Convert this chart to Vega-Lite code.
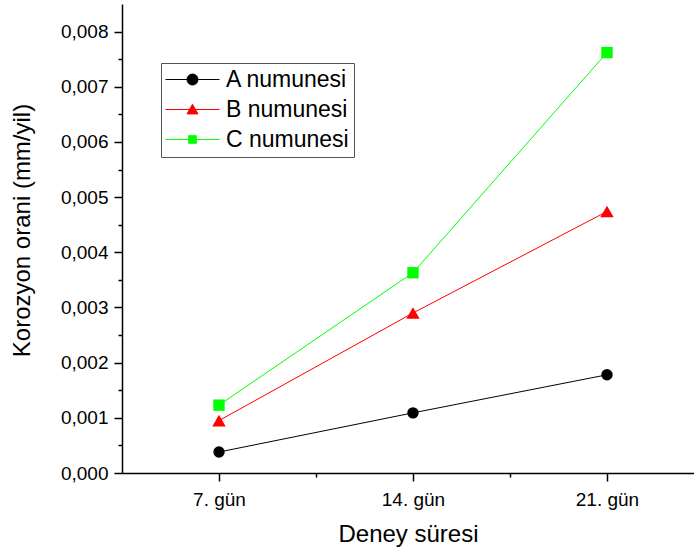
{
  "$schema": "https://vega.github.io/schema/vega-lite/v6.json",
  "width": 572,
  "height": 469,
  "autosize": {"type": "none"},
  "padding": {"left": 122, "top": 4, "right": 0, "bottom": 77},
  "background": "white",
  "config": {
    "view": {"stroke": null},
    "font": "Liberation Sans",
    "axis": {
      "grid": false,
      "domainColor": "#000000",
      "domainWidth": 1.5,
      "tickColor": "#000000",
      "tickWidth": 1.5,
      "labelColor": "#000000",
      "labelFont": "Liberation Sans",
      "labelFontSize": 19,
      "titleColor": "#000000",
      "titleFont": "Liberation Sans",
      "titleFontSize": 24,
      "titleFontWeight": "normal"
    },
    "legend": {"title": null, "orient": "none", "legendX": 39, "legendY": 59, "padding": 5, "symbolOffset": 15, "labelOffset": 22, "rowPadding": 6, "labelFontSize": 23, "labelFont": "Liberation Sans", "labelColor": "#000000", "strokeColor": "#555555", "fillColor": "#ffffff", "symbolStrokeWidth": 1, "symbolSize": 400, "symbolOpacity": 1, "labelLimit": 300}
  },
  "data": {
    "values": [
      {"day": 7, "series": "A numunesi", "rate": 0.00038},
      {"day": 14, "series": "A numunesi", "rate": 0.00109},
      {"day": 21, "series": "A numunesi", "rate": 0.00178},
      {"day": 7, "series": "B numunesi", "rate": 0.00095},
      {"day": 14, "series": "B numunesi", "rate": 0.0029},
      {"day": 21, "series": "B numunesi", "rate": 0.00474},
      {"day": 7, "series": "C numunesi", "rate": 0.00123},
      {"day": 14, "series": "C numunesi", "rate": 0.00363},
      {"day": 21, "series": "C numunesi", "rate": 0.00762}
    ]
  },
  "encoding": {
    "x": {
      "field": "day",
      "type": "quantitative",
      "scale": {"domain": [3.5, 24.14], "nice": false, "zero": false},
      "axis": {
        "title": "Deney süresi",
        "values": [7, 10.5, 14, 17.5, 21],
        "labelExpr": "datum.value % 7 == 0 ? datum.value + '. gün' : ''",
        "tickSize": {"condition": {"test": "datum.value % 7 != 0", "value": 4}, "value": 8},
        "labelPadding": 9,
        "titlePadding": 13
      }
    },
    "y": {
      "field": "rate",
      "type": "quantitative",
      "scale": {"domain": [0, 0.0085], "nice": false},
      "axis": {
        "title": "Korozyon orani (mm/yil)",
        "titleY": 226,
        "values": [0, 0.0005, 0.001, 0.0015, 0.002, 0.0025, 0.003, 0.0035, 0.004, 0.0045, 0.005, 0.0055, 0.006, 0.0065, 0.007, 0.0075, 0.008],
        "labelExpr": "round(datum.value * 2000) % 2 == 0 ? replace(format(datum.value, '.3f'), '.', ',') : ''",
        "tickSize": {"condition": {"test": "round(datum.value * 2000) % 2 == 1", "value": 4}, "value": 8},
        "labelPadding": 6,
        "titlePadding": 26
      }
    }
  },
  "layer": [
    {
      "transform": [{"filter": "datum.series === 'A numunesi'"}],
      "mark": {"type": "line", "strokeWidth": 1, "color": "#000000"},
      "encoding": {}
    },
    {
      "transform": [{"filter": "datum.series === 'B numunesi'"}],
      "mark": {"type": "line", "strokeWidth": 1, "color": "#ff0000"},
      "encoding": {}
    },
    {
      "transform": [{"filter": "datum.series === 'C numunesi'"}],
      "mark": {"type": "line", "strokeWidth": 1, "color": "#00ff00"},
      "encoding": {}
    },
    {
      "transform": [{"filter": "datum.series === 'A numunesi'"}],
      "mark": {"type": "point", "shape": "circle", "filled": true, "size": 130, "color": "#000000", "opacity": 1}
    },
    {
      "transform": [{"filter": "datum.series === 'B numunesi'"}],
      "mark": {"type": "point", "shape": "triangle-up", "filled": true, "size": 180, "color": "#ff0000", "opacity": 1}
    },
    {
      "transform": [{"filter": "datum.series === 'C numunesi'"}],
      "mark": {"type": "point", "shape": "square", "filled": true, "size": 130, "color": "#00ff00", "opacity": 1}
    },
    {
      "mark": {"type": "point", "filled": true, "opacity": 0, "size": 400},
      "encoding": {
        "fill": {
          "field": "series",
          "type": "nominal",
          "scale": {"domain": ["A numunesi", "B numunesi", "C numunesi"], "range": ["#000000", "#ff0000", "#00ff00"]}
        },
        "stroke": {
          "field": "series",
          "type": "nominal",
          "scale": {"domain": ["A numunesi", "B numunesi", "C numunesi"], "range": ["#000000", "#ff0000", "#00ff00"]}
        },
        "shape": {
          "field": "series",
          "type": "nominal",
          "scale": {"domain": ["A numunesi", "B numunesi", "C numunesi"], "range": ["M-2.7,0H2.7M0.55,0A0.55,0.55,0,1,1,-0.55,0A0.55,0.55,0,1,1,0.55,0Z", "M-2.7,0H2.7M0,-0.52L0.55,0.44L-0.55,0.44Z", "M-2.7,0H2.7M-0.38,-0.38H0.38V0.38H-0.38Z"]}
        }
      }
    }
  ]
}
